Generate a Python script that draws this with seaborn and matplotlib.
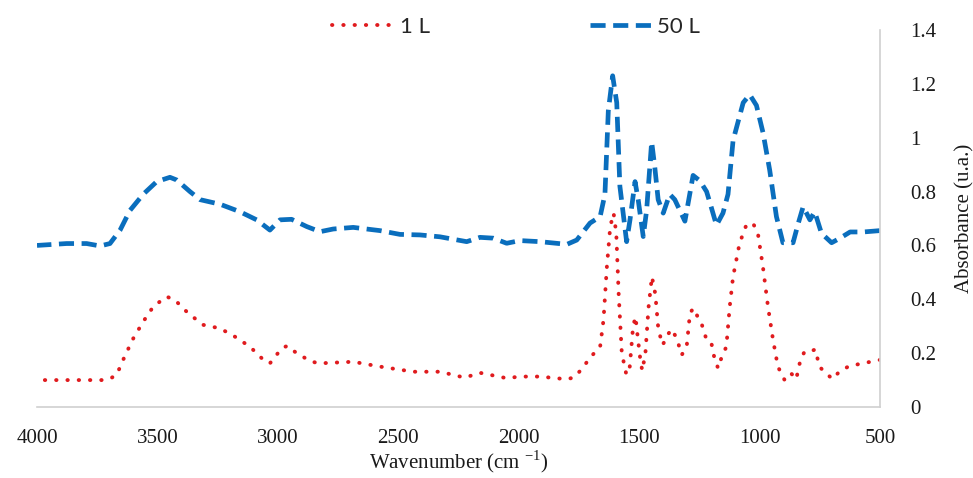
import pandas as pd
import matplotlib
matplotlib.use("Agg")
import matplotlib.pyplot as plt
import seaborn as sns

# 1 L sample (red, dotted)
wn_1L = [4000, 3900, 3800, 3731, 3697, 3669, 3635, 3600, 3559, 3517, 3462, 3427, 3372, 3310,
         3240, 3178, 3116, 3060, 3033, 2984, 2961, 2922, 2866, 2832, 2760, 2687, 2576, 2438,
         2327, 2224, 2161, 2050, 1995, 1912, 1800, 1770, 1742, 1700, 1662, 1648, 1634, 1620,
         1606, 1595, 1585, 1572, 1553, 1539, 1525, 1515, 1506, 1494, 1487, 1474, 1461, 1447,
         1433, 1420, 1402, 1385, 1365, 1344, 1323, 1302, 1289, 1275, 1261, 1241, 1220, 1200,
         1186, 1172, 1159, 1138, 1124, 1110, 1083, 1055, 1027, 1007, 986, 965, 944, 924,
         896, 869, 848, 832, 814, 793, 768, 752, 724, 697, 669, 628, 572, 500]
abs_1L = [0.10, 0.10, 0.10, 0.10, 0.105, 0.12, 0.19, 0.255, 0.317, 0.373, 0.41, 0.397, 0.348, 0.305,
          0.292, 0.261, 0.224, 0.175, 0.162, 0.218, 0.227, 0.20, 0.171, 0.162, 0.165, 0.168, 0.15, 0.131,
          0.131, 0.109, 0.127, 0.107, 0.113, 0.113, 0.103, 0.11, 0.137, 0.187, 0.224, 0.323, 0.52, 0.67,
          0.72, 0.645, 0.42, 0.20, 0.12, 0.15, 0.30, 0.335, 0.26, 0.168, 0.135, 0.20, 0.37, 0.484,
          0.42, 0.286, 0.23, 0.264, 0.289, 0.255, 0.193, 0.23, 0.348, 0.367, 0.342, 0.31, 0.249, 0.237,
          0.175, 0.144, 0.181, 0.224, 0.372, 0.484, 0.608, 0.676, 0.682, 0.645, 0.52, 0.372, 0.249, 0.15,
          0.10, 0.125, 0.103, 0.168, 0.205, 0.205, 0.214, 0.15, 0.125, 0.104, 0.131, 0.152, 0.162, 0.175]

# 50 L sample (blue, dashed)
wn_50L = [4000, 3877, 3794, 3738, 3697, 3655, 3614, 3559, 3503, 3448, 3420, 3365, 3323, 3240,
          3157, 3088, 3033, 2991, 2943, 2880, 2825, 2770, 2687, 2576, 2493, 2410, 2327, 2216,
          2161, 2106, 2050, 1995, 1912, 1800, 1759, 1704, 1662, 1642, 1628, 1610, 1593, 1580,
          1552, 1538, 1517, 1504, 1483, 1469, 1448, 1435, 1421, 1400, 1373, 1352, 1310, 1276,
          1248, 1220, 1200, 1179, 1152, 1131, 1110, 1068, 1041, 1013, 986, 958, 930, 903,
          861, 840, 819, 791, 771, 743, 701, 666, 624, 569, 500]
abs_50L = [0.60, 0.607, 0.607, 0.598, 0.607, 0.657, 0.73, 0.79, 0.837, 0.853, 0.843, 0.80, 0.77, 0.753,
           0.725, 0.695, 0.657, 0.695, 0.697, 0.67, 0.651, 0.661, 0.667, 0.655, 0.641, 0.639, 0.632, 0.614,
           0.63, 0.627, 0.608, 0.618, 0.614, 0.604, 0.62, 0.683, 0.707, 0.79, 1.10, 1.23, 1.13, 0.82,
           0.614, 0.695, 0.837, 0.77, 0.633, 0.73, 0.985, 0.89, 0.77, 0.72, 0.79, 0.77, 0.69, 0.86,
           0.84, 0.80, 0.74, 0.675, 0.72, 0.79, 0.99, 1.13, 1.16, 1.12, 1.02, 0.88, 0.707, 0.61,
           0.61, 0.68, 0.744, 0.695, 0.725, 0.645, 0.61, 0.627, 0.65, 0.65, 0.655]

x_ticks = [4000, 3500, 3000, 2500, 2000, 1500, 1000, 500]
y_ticks = [0, 0.2, 0.4, 0.6, 0.8, 1.0, 1.2, 1.4]

sns.set_style("white")
plt.rcParams["font.family"] = ["Liberation Serif", "DejaVu Serif"]
plt.rcParams["mathtext.fontset"] = "custom"
plt.rcParams["mathtext.rm"] = "Liberation Serif"

df1 = pd.DataFrame({"wn": wn_1L, "abs": abs_1L})
df50 = pd.DataFrame({"wn": wn_50L, "abs": abs_50L})

fig = plt.figure(figsize=(9.73, 4.78), dpi=100)
ax = fig.add_axes([37 / 973, 1 - 407 / 478, (880 - 37) / 973, (407 - 30) / 478])

sns.lineplot(data=df1, x="wn", y="abs", ax=ax, color="#E01B1E", lw=2.8,
             linestyle=(0, (0.1, 2.8)), dash_capstyle="round", label="1 L")
sns.lineplot(data=df50, x="wn", y="abs", ax=ax, color="#0A6EBD", lw=3.4,
             linestyle=(0, (3.2, 1.6)), label="50 L")

ax.set_xlim(4000, 500)
ax.set_ylim(0, 1.4)
ax.set_xticks(x_ticks)
ax.set_yticks(y_ticks)
ax.set_yticklabels([f"{v:g}" for v in y_ticks])
ax.yaxis.tick_right()
ax.yaxis.set_label_position("right")
ax.tick_params(axis="both", length=0, labelsize=15, colors="#1a1a1a")
ax.tick_params(axis="x", pad=16)
ax.tick_params(axis="y", pad=22)

for side in ["left", "top"]:
    ax.spines[side].set_visible(False)
for side in ["bottom", "right"]:
    ax.spines[side].set_color("#d0d0d0")
    ax.spines[side].set_linewidth(1.2)

ax.set_xlabel("Wavenumber (cm $^{-1}$)", fontsize=15, labelpad=0, color="#1a1a1a")
ax.set_ylabel("Absorbance (u.a.)", fontsize=15, labelpad=13, color="#1a1a1a")

ax.get_legend().remove()
handles, labels = ax.get_legend_handles_labels()
fig.legend(handles, labels, loc="center", bbox_to_anchor=(516 / 973, 1 - 27 / 478),
           ncol=2, frameon=False, handlelength=2.9, handletextpad=0.15, columnspacing=7.2,
           prop={"family": "Lato", "size": 16})

fig.savefig("out.png", dpi=100)
